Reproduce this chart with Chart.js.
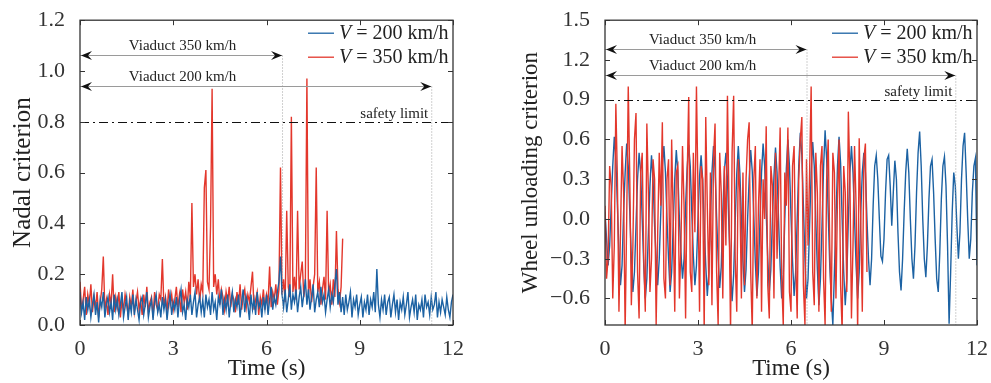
<!DOCTYPE html>
<html>
<head>
<meta charset="utf-8">
<script src="https://cdn.jsdelivr.net/npm/chart.js@4/dist/chart.umd.min.js"></script>
<style>
  html, body { margin: 0; padding: 0; background: #fff; }
  #wrap { position: relative; width: 991px; height: 383px; }
  canvas { position: absolute; top: 0; }
  #left { left: 0; }
  #right { left: 495px; }
</style>
</head>
<body>
<div id="wrap">
  <canvas id="left" width="495" height="383"></canvas>
  <canvas id="right" width="496" height="383"></canvas>
</div>
<script>
// sampling step of the time histories (s)
const DT = 0.05;

const X_TICKS = [0, 3, 6, 9, 12];
const NADAL_TICKS = [0, 0.2, 0.4, 0.6, 0.8, 1.0, 1.2];
const UNLOAD_TICKS = [-0.6, -0.3, 0, 0.3, 0.6, 0.9, 1.2, 1.5];

const SPEEDS = ["200 km/h", "350 km/h"];
const VIADUCT_LABELS = ["Viaduct 350 km/h", "Viaduct 200 km/h"];
const VIADUCT_END = [6.5, 11.3];
const NADAL_ARROW_Y = [1.062, 0.94];
const UNLOAD_ARROW_Y = [1.28, 1.085];
const NADAL_LIMIT = 0.8;
const UNLOAD_LIMIT = 0.9;

// Nadal criterion, V = 200 km/h (0 - 12 s)
const nadal200 = [
0.13,0.05,0.09,0.02,0.11,0.06,0.10,0.03,0.08,0.12,0.04,0.09,0.01,0.10,0.07,0.13,0.03,0.08,0.11,0.05,
0.09,0.02,0.12,0.06,0.10,0.04,0.08,0.13,0.03,0.07,0.11,0.02,0.09,0.05,0.12,0.04,0.10,0.06,0.02,0.09,
0.11,0.04,0.08,0.13,0.03,0.07,0.10,0.02,0.09,0.12,0.05,0.08,0.03,0.11,0.06,0.10,0.02,0.08,0.12,0.04,
0.09,0.06,0.11,0.03,0.10,0.14,0.05,0.08,0.02,0.10,0.07,0.12,0.04,0.09,0.13,0.03,0.08,0.11,0.05,0.10,
0.03,0.12,0.07,0.10,0.04,0.13,0.06,0.09,0.02,0.11,0.08,0.14,0.04,0.10,0.06,0.12,0.03,0.09,0.13,0.05,
0.10,0.07,0.12,0.03,0.09,0.14,0.05,0.11,0.08,0.02,0.12,0.06,0.10,0.04,0.13,0.07,0.09,0.03,0.11,0.06,
0.12,0.04,0.10,0.15,0.06,0.11,0.08,0.13,0.17,0.27,0.12,0.07,0.14,0.05,0.10,0.16,0.06,0.12,0.09,0.14,
0.05,0.11,0.15,0.07,0.12,0.18,0.08,0.14,0.06,0.11,0.16,0.05,0.10,0.13,0.07,0.15,0.09,0.12,0.05,0.10,
0.14,0.07,0.12,0.09,0.16,0.22,0.08,0.13,0.05,0.11,0.04,0.12,0.06,0.09,0.13,0.03,0.10,0.07,0.12,0.04,
0.08,0.11,0.03,0.09,0.06,0.12,0.04,0.10,0.07,0.13,0.05,0.22,0.08,0.03,0.10,0.06,0.12,0.04,0.09,0.11,
0.03,0.08,0.12,0.05,0.10,0.02,0.09,0.06,0.11,0.04,0.08,0.13,0.03,0.07,0.10,0.05,0.12,0.02,0.08,0.06,
0.10,0.03,0.12,0.07,0.09,0.04,0.11,0.06,0.08,0.13,0.03,0.09,0.05,0.10,0.07,0.04,0.11,0.06,0.03,0.09,
0.12
];

// Nadal criterion, V = 350 km/h (0 - 8.45 s)
const nadal350 = [
0.17,0.06,0.10,0.15,0.04,0.12,0.08,0.16,0.05,0.11,0.07,0.13,0.03,0.09,0.14,0.27,0.06,0.10,0.04,0.12,
0.08,0.20,0.05,0.11,0.07,0.13,0.03,0.10,0.06,0.12,0.08,0.04,0.11,0.07,0.14,0.05,0.09,0.13,0.06,0.10,
0.04,0.12,0.07,0.15,0.05,0.09,0.11,0.03,0.13,0.08,0.06,0.12,0.10,0.26,0.07,0.11,0.05,0.14,0.08,0.12,
0.06,0.10,0.15,0.07,0.12,0.05,0.14,0.09,0.13,0.06,0.17,0.11,0.48,0.15,0.20,0.12,0.18,0.09,0.16,0.13,
0.54,0.61,0.17,0.14,0.39,0.93,0.15,0.20,0.12,0.18,0.08,0.14,0.11,0.06,0.13,0.09,0.15,0.07,0.12,0.10,
0.05,0.13,0.08,0.16,0.06,0.11,0.14,0.07,0.12,0.09,0.15,0.21,0.06,0.10,0.13,0.04,0.11,0.08,0.14,0.06,
0.12,0.09,0.23,0.07,0.13,0.10,0.16,0.08,0.14,0.62,0.12,0.18,0.09,0.45,0.15,0.11,0.82,0.13,0.19,0.10,
0.45,0.14,0.20,0.25,0.11,0.16,0.97,0.12,0.18,0.09,0.15,0.20,0.62,0.13,0.17,0.08,0.14,0.19,0.10,0.45,
0.12,0.16,0.08,0.18,0.11,0.37,0.14,0.09,0.15,0.34
];

// wheel unloading criterion, V = 200 km/h (0 - 12 s)
const unload200 = [
0.05,-0.15,-0.35,-0.20,0.10,0.40,0.62,0.45,0.10,-0.25,-0.50,-0.35,0.05,0.35,0.57,0.40,0.05,-0.30,-0.55,-0.40,
-0.05,0.30,0.50,0.35,0.00,-0.35,-0.60,-0.45,-0.10,0.25,0.48,0.30,-0.05,-0.30,-0.50,-0.30,0.05,0.40,0.55,0.35,
0.00,-0.30,-0.55,-0.40,-0.05,0.30,0.52,0.35,0.00,-0.25,-0.45,-0.30,0.10,0.38,0.56,0.40,0.05,-0.28,-0.50,-0.35,
0.00,0.32,0.48,0.30,-0.05,-0.35,-0.58,-0.40,0.00,0.35,0.55,0.38,0.02,-0.30,-0.52,-0.36,0.05,0.36,0.50,0.30,
-0.08,-0.38,-0.62,-0.42,-0.02,0.34,0.55,0.35,0.00,-0.32,-0.55,-0.38,0.00,0.30,0.52,0.36,0.02,-0.33,-0.58,-0.40,
0.00,0.35,0.57,0.40,0.05,-0.30,-0.55,-0.38,0.00,0.32,0.54,0.35,-0.02,-0.36,-0.60,-0.42,0.00,0.38,0.60,0.40,
0.02,-0.32,-0.58,-0.40,0.00,0.40,0.65,0.48,0.10,-0.30,-0.60,-0.45,-0.05,0.35,0.58,0.40,0.00,-0.38,-0.65,-0.45,
-0.05,0.38,0.67,0.45,0.05,-0.35,-0.60,-0.80,-0.40,0.00,0.40,0.62,0.42,0.00,-0.40,-0.65,-0.45,0.00,0.35,0.55,
0.35,0.00,-0.35,-0.60,-0.40,0.05,0.35,0.50,0.35,0.00,-0.30,-0.50,-0.30,0.10,0.40,0.48,0.30,0.00,-0.28,-0.32,
-0.15,0.20,0.45,0.48,0.25,-0.05,0.20,0.44,0.30,-0.10,-0.40,-0.54,-0.30,0.05,0.35,0.53,0.35,0.00,-0.30,-0.45,
-0.20,0.20,0.50,0.66,0.40,0.00,-0.30,-0.44,-0.20,0.15,0.40,0.45,0.20,-0.15,-0.45,-0.55,-0.25,0.15,0.40,0.47,
0.25,-0.20,-0.79,-0.40,0.05,0.35,0.25,-0.05,-0.30,-0.10,0.30,0.55,0.65,0.35,0.00,-0.30,-0.15,0.20,0.40,0.46,
-0.35
];

// wheel unloading criterion, V = 350 km/h (0 - 8.45 s)
const unload350 = [
0.10,-0.45,-0.30,0.40,0.25,-0.60,-0.20,0.87,0.30,-0.70,-0.10,0.55,0.20,-0.85,0.00,1.00,0.30,-0.65,-0.20,0.60,
0.80,-0.40,-0.75,0.35,0.50,-0.30,-0.70,0.72,0.20,-0.55,-0.30,0.45,0.30,-0.80,-0.10,0.50,0.10,0.73,-0.45,-0.60,
0.30,0.45,-0.50,0.60,0.00,-0.70,0.35,0.40,-0.60,-0.20,0.55,0.10,-0.75,0.30,0.92,-0.40,-0.55,0.50,-0.10,1.00,
0.20,-0.70,0.40,0.30,-0.85,0.77,0.10,-0.50,0.35,-0.65,0.45,0.72,-0.40,-0.80,0.50,0.20,-0.60,0.40,-0.20,0.93,
0.10,-0.85,0.50,0.93,-0.30,-0.70,0.45,0.20,-0.60,0.35,-0.50,0.30,0.60,0.73,-0.40,-0.85,0.30,0.55,-0.60,0.10,
0.45,-0.70,0.30,0.00,0.70,-0.50,-0.75,0.40,0.25,-0.60,0.50,-0.30,0.20,0.69,-0.45,-0.80,0.35,0.10,0.69,-0.55,
-0.70,0.40,0.55,-0.30,-0.75,0.30,0.60,0.77,-0.50,-0.80,0.45,-0.20,0.35,1.00,-0.40,-0.65,0.50,0.20,-0.70,0.40,
0.55,-0.45,-0.80,0.30,0.60,-0.20,-0.70,0.50,0.35,-0.60,0.15,0.60,-0.50,-0.85,0.40,0.20,-0.55,0.81,0.30,-0.75,
-0.20,0.55,0.10,-0.85,0.61,0.00,-0.70,0.45,0.57,-0.40
];

const BLUE = "#1c62a3";
const RED = "#e3372c";
const INK = "#333";
const SERIF = "'Liberation Serif', 'DejaVu Serif', serif";

function toPoints(vals) {
  return vals.map((v, i) => ({ x: i * DT, y: v }));
}

function fmt(v) {
  const s = Math.abs(v).toFixed(1);
  return v < 0 ? "\u2212" + s : s;
}

function arrowHead(ctx, x, y, dir) {
  ctx.beginPath();
  ctx.moveTo(x, y);
  ctx.lineTo(x - dir * 11, y - 4.5);
  ctx.lineTo(x - dir * 7, y);
  ctx.lineTo(x - dir * 11, y + 4.5);
  ctx.closePath();
  ctx.fill();
}

// box, inward ticks, viaduct arrows, safety limit and legend
const decor = {
  id: "decor",
  afterDraw(chart, args, o) {
    const ctx = chart.ctx;
    const a = chart.chartArea;
    const xs = chart.scales.x, ys = chart.scales.y;
    ctx.save();

    // viaduct arrows + dotted end lines
    o.arrowY.forEach((yv, i) => {
      const y = Math.round(ys.getPixelForValue(yv)) + 0.5;
      const x1 = xs.getPixelForValue(VIADUCT_END[i]);
      ctx.strokeStyle = "#9a9a9a";
      ctx.lineWidth = 1;
      ctx.setLineDash([]);
      ctx.beginPath();
      ctx.moveTo(a.left, y);
      ctx.lineTo(x1, y);
      ctx.stroke();
      ctx.setLineDash([1, 2]);
      ctx.strokeStyle = "#a0a0a0";
      ctx.beginPath();
      ctx.moveTo(x1 + 0.5, y);
      ctx.lineTo(x1 + 0.5, a.bottom);
      ctx.stroke();
      ctx.fillStyle = "#111";
      arrowHead(ctx, a.left + 1, y, -1);
      arrowHead(ctx, x1, y, 1);
      ctx.font = "15px " + SERIF;
      ctx.fillStyle = "#222";
      ctx.textAlign = "center";
      ctx.textBaseline = "alphabetic";
      ctx.fillText(VIADUCT_LABELS[i], xs.getPixelForValue(o.labelX), y - 6);
    });

    // safety limit
    const ly = Math.round(ys.getPixelForValue(o.limit)) + 0.5;
    ctx.strokeStyle = "#111";
    ctx.lineWidth = 1;
    ctx.setLineDash([9, 4, 2, 4]);
    ctx.beginPath();
    ctx.moveTo(a.left, ly);
    ctx.lineTo(a.right, ly);
    ctx.stroke();
    ctx.setLineDash([]);
    ctx.font = "15px " + SERIF;
    ctx.fillStyle = "#222";
    ctx.textAlign = "right";
    ctx.fillText("safety limit", xs.getPixelForValue(VIADUCT_END[1]) - 3, ly - 5);

    // frame with inward ticks
    ctx.strokeStyle = INK;
    ctx.lineWidth = 1.3;
    ctx.strokeRect(a.left, a.top, a.right - a.left, a.bottom - a.top);
    ctx.lineWidth = 1;
    ctx.beginPath();
    X_TICKS.forEach(t => {
      const x = Math.round(xs.getPixelForValue(t)) + 0.5;
      ctx.moveTo(x, a.bottom); ctx.lineTo(x, a.bottom - 5);
      ctx.moveTo(x, a.top); ctx.lineTo(x, a.top + 5);
    });
    o.yTicks.forEach(t => {
      const y = Math.round(ys.getPixelForValue(t)) + 0.5;
      ctx.moveTo(a.left, y); ctx.lineTo(a.left + 5, y);
      ctx.moveTo(a.right, y); ctx.lineTo(a.right - 5, y);
    });
    ctx.stroke();

    // legend
    [BLUE, RED].forEach((c, i) => {
      const y = a.top + 13 + i * 24;
      ctx.strokeStyle = c;
      ctx.lineWidth = 1.3;
      ctx.beginPath();
      ctx.moveTo(a.right - 145, y);
      ctx.lineTo(a.right - 119, y);
      ctx.stroke();
      ctx.fillStyle = "#222";
      ctx.textAlign = "left";
      ctx.textBaseline = "middle";
      ctx.font = "italic 20px " + SERIF;
      const xv = a.right - 114;
      ctx.fillText("V", xv, y + 1);
      const w = ctx.measureText("V").width;
      ctx.font = "20px " + SERIF;
      ctx.fillText(" = " + SPEEDS[i], xv + w, y + 1);
    });

    ctx.restore();
  }
};

function makeChart(id, cfg) {
  return new Chart(document.getElementById(id), {
    type: "line",
    data: {
      datasets: [
        { label: "V = " + SPEEDS[0], data: toPoints(cfg.blue), borderColor: BLUE, order: cfg.blueOrder },
        { label: "V = " + SPEEDS[1], data: toPoints(cfg.red), borderColor: RED, order: cfg.redOrder }
      ]
    },
    options: {
      responsive: false,
      animation: false,
      layout: { padding: { top: 20, right: cfg.padRight, left: 0, bottom: 0 } },
      elements: {
        point: { radius: 0 },
        line: { borderWidth: 1.4, tension: 0 }
      },
      plugins: {
        legend: { display: false },
        tooltip: { enabled: false },
        decor: { arrowY: cfg.arrowY, limit: cfg.limit, yTicks: cfg.yTicks, labelX: cfg.labelX }
      },
      scales: {
        x: {
          type: "linear",
          min: 0, max: 12,
          afterBuildTicks: s => { s.ticks = X_TICKS.map(v => ({ value: v })); },
          afterFit: s => { s.height = 58; },
          grid: { display: false },
          border: { display: false },
          ticks: { padding: 3, color: INK, font: { family: SERIF, size: 22 } },
          title: {
            display: true, text: "Time (s)", color: "#222",
            font: { family: SERIF, size: 23 }, padding: { top: 0, bottom: 0 }
          }
        },
        y: {
          min: cfg.yMin, max: cfg.yMax,
          afterBuildTicks: s => { s.ticks = cfg.yTicks.map(v => ({ value: v })); },
          afterFit: s => { s.width = cfg.yWidth; },
          grid: { display: false },
          border: { display: false },
          ticks: { padding: 7, color: INK, font: { family: SERIF, size: 22 }, callback: v => fmt(v) },
          title: {
            display: true, text: cfg.yTitle, color: "#222",
            font: { family: SERIF, size: cfg.titleSize }, padding: { top: cfg.titlePad, bottom: 0 }
          }
        }
      }
    },
    plugins: [decor]
  });
}

makeChart("left", {
  blue: nadal200, red: nadal350, blueOrder: 0, redOrder: 1,
  yMin: 0, yMax: 1.2, yTicks: NADAL_TICKS, yTitle: "Nadal criterion",
  yWidth: 80, padRight: 42, titlePad: 8, titleSize: 25,
  arrowY: NADAL_ARROW_Y, limit: NADAL_LIMIT, labelX: 3.3
});

makeChart("right", {
  blue: unload200, red: unload350, blueOrder: 1, redOrder: 0,
  yMin: -0.8, yMax: 1.5, yTicks: UNLOAD_TICKS, yTitle: "Wheel unloading criterion",
  yWidth: 110, padRight: 14, titlePad: 22, titleSize: 23,
  arrowY: UNLOAD_ARROW_Y, limit: UNLOAD_LIMIT, labelX: 3.15
});
</script>
</body>
</html>
